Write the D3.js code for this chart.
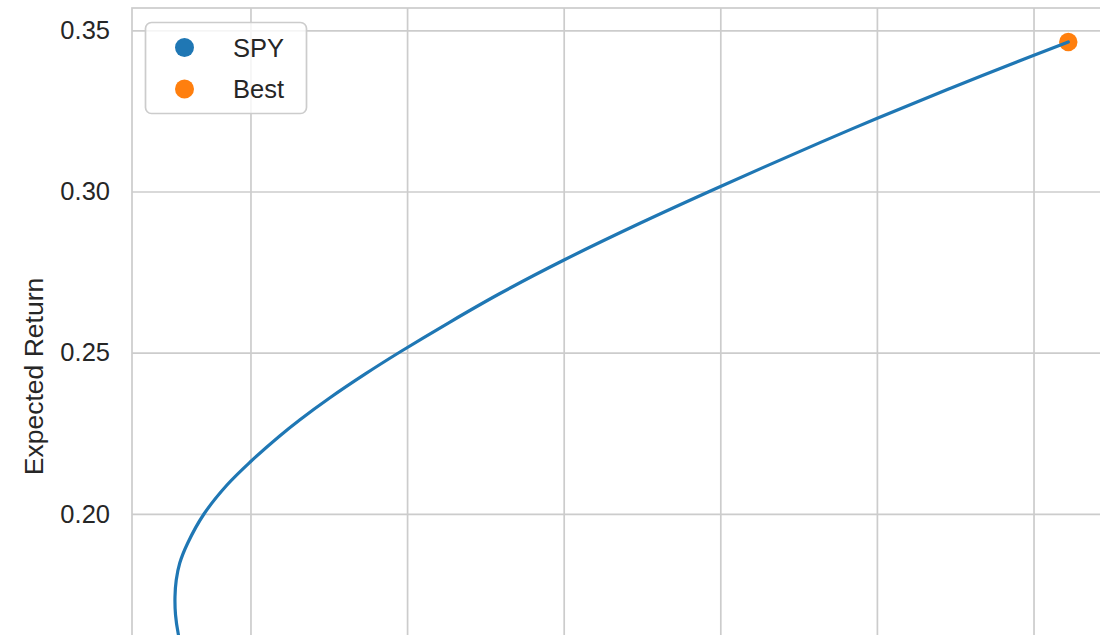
<!DOCTYPE html>
<html>
<head>
<meta charset="utf-8">
<script src="https://cdn.jsdelivr.net/npm/d3@7"></script>
<style>
  html, body { margin: 0; padding: 0; background: #fff; }
  svg { display: block; overflow: hidden; }
  text { font-family: "Liberation Sans", Arial, sans-serif; fill: #262626; }
</style>
</head>
<body>
<svg id="chart" width="1100" height="635"></svg>
<script>
// ---- data ----
const frontierVol = [0.19138, 0.19078, 0.19043, 0.19036, 0.19052, 0.19097, 0.19199, 0.19406, 0.19700, 0.20000,
                     0.20377, 0.20632, 0.21015, 0.21462, 0.21909, 0.22548, 0.23186, 0.24004, 0.24974, 0.25945,
                     0.27273, 0.27997, 0.28933, 0.29997, 0.30444];
const frontierRet = [0.15655, 0.16275, 0.16864, 0.17423, 0.17950, 0.18477, 0.19098, 0.19997, 0.20897, 0.21619,
                     0.22426, 0.22922, 0.23604, 0.24336, 0.25022, 0.25952, 0.26836, 0.27875, 0.29014, 0.30093,
                     0.31517, 0.32264, 0.33195, 0.34221, 0.34637];
const bestVol = [0.30444];
const bestRet = [0.34637];
const legendLabels = ["SPY", "Best"];
const legendColors = ["#1f77b4", "#ff7f0e"];
const yTicks = [0.20, 0.25, 0.30, 0.35];
const xTicks = [0.20, 0.22, 0.24, 0.26, 0.28, 0.30];
const yLabel = "Expected Return";

// ---- layout ----
const svg = d3.select("#chart");
const L = 132, T = 8, R = 1113, B = 688;

const x = d3.scaleLinear().domain([0.18487, 0.31015]).range([L, R]);
const y = d3.scaleLinear().domain([0.1460, 0.35692]).range([B, T]);

const gridColor = "#cccccc";

// vertical grid (x axis labels fall below the visible area, so none are drawn)
const gx = svg.append("g").attr("transform", `translate(0,${B})`)
  .call(d3.axisBottom(x).tickValues(xTicks).tickSize(-(B - T)).tickFormat(() => ""));
gx.select(".domain").remove();
gx.selectAll(".tick line").attr("stroke", gridColor).attr("stroke-width", 1.7);

const gy = svg.append("g").attr("transform", `translate(${L},0)`)
  .call(d3.axisLeft(y).tickValues(yTicks).tickSize(-(R - L)).tickFormat(d3.format(".2f")).tickPadding(22));
gy.select(".domain").remove();
gy.selectAll(".tick line").attr("stroke", gridColor).attr("stroke-width", 1.7);
gy.selectAll(".tick text").attr("font-size", 25.5).attr("fill", "#262626")
  .attr("font-family", "Liberation Sans, Arial, sans-serif");

// spines
svg.append("rect").attr("x", L).attr("y", T).attr("width", R - L).attr("height", B - T)
  .attr("fill", "none").attr("stroke", gridColor).attr("stroke-width", 1.7);

// y label
svg.append("text")
  .attr("transform", `translate(34,376.5) rotate(-90)`)
  .attr("text-anchor", "middle").attr("dominant-baseline", "central")
  .attr("font-size", 26.5).text(yLabel);

// clip for plot
svg.append("clipPath").attr("id", "plotclip").append("rect")
  .attr("x", L).attr("y", T).attr("width", R - L).attr("height", B - T);
const plot = svg.append("g").attr("clip-path", "url(#plotclip)");

// best point (below the line, as in matplotlib zorder)
plot.selectAll("circle.best").data(bestVol.map((v, i) => [v, bestRet[i]]))
  .enter().append("circle").attr("class", "best")
  .attr("cx", d => x(d[0])).attr("cy", d => y(d[1])).attr("r", 9.2)
  .attr("fill", legendColors[1]);

// frontier line
const pts = frontierVol.map((v, i) => [v, frontierRet[i]]);
plot.append("path").datum(pts)
  .attr("fill", "none").attr("stroke", legendColors[0]).attr("stroke-width", 3.2)
  .attr("stroke-linejoin", "round").attr("stroke-linecap", "round")
  .attr("d", d3.line().x(d => x(d[0])).y(d => y(d[1])).curve(d3.curveCatmullRom.alpha(0.5)));

// legend
const lg = svg.append("g");
lg.append("rect").attr("x", 145.5).attr("y", 22.5).attr("width", 161).attr("height", 91)
  .attr("rx", 6).attr("ry", 6)
  .attr("fill", "white").attr("fill-opacity", 0.8)
  .attr("stroke", gridColor).attr("stroke-width", 1.7);
legendLabels.forEach((lab, i) => {
  const cy = 47.5 + i * 41.5;
  lg.append("circle").attr("cx", 184.5).attr("cy", cy).attr("r", 9.5).attr("fill", legendColors[i]);
  lg.append("text").attr("x", 233).attr("y", cy).attr("dominant-baseline", "central")
    .attr("font-size", 25.5).text(lab);
});
</script>
</body>
</html>
